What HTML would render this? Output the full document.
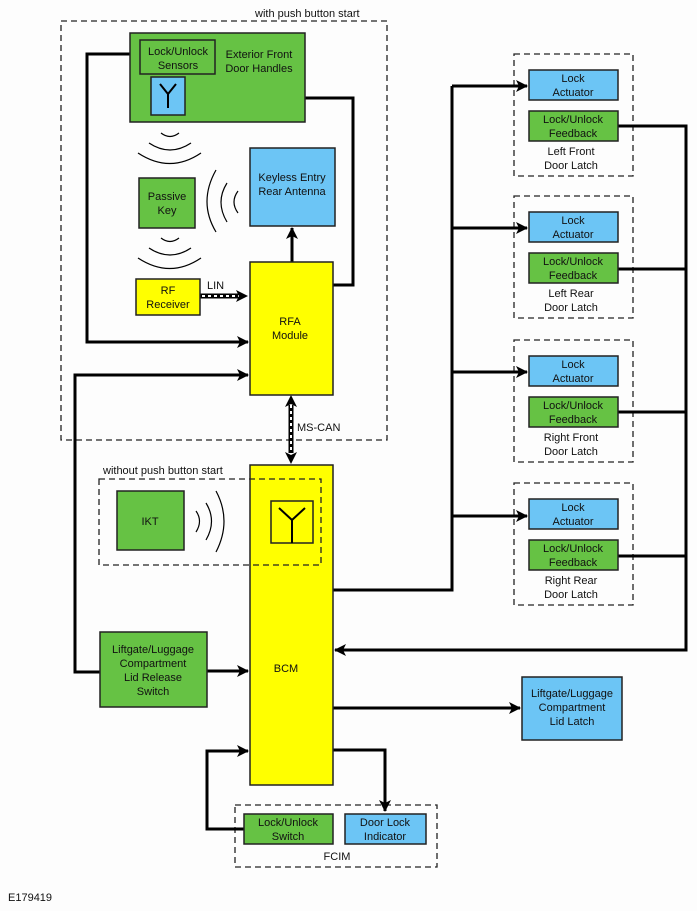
<!DOCTYPE html>
<html><head><meta charset="utf-8"><style>
html,body{margin:0;padding:0;background:#fff}
svg{display:block}
text{font-family:"Liberation Sans",sans-serif;font-size:11px;fill:#111}
</style></head><body>
<svg width="697" height="911" viewBox="0 0 697 911" xmlns="http://www.w3.org/2000/svg">
<defs>
<marker id="a" markerWidth="12" markerHeight="12" refX="11" refY="6" orient="auto" markerUnits="userSpaceOnUse">
<path d="M0,0 L12,6 L0,12 L3,6 Z" fill="#000"/></marker>
</defs>
<rect width="697" height="911" fill="#fdfdfd"/>
<g fill="none" stroke="#222" stroke-width="1.3" stroke-dasharray="6,4">
<rect x="61" y="21" width="326" height="419"/>
<rect x="235" y="805" width="202" height="62"/>
<rect x="514" y="54" width="119" height="122"/>
<rect x="514" y="196" width="119" height="122"/>
<rect x="514" y="340" width="119" height="122"/>
<rect x="514" y="483" width="119" height="122"/>
</g>
<text x="255" y="17">with push button start</text>
<text x="103" y="474">without push button start</text>
<text x="337" y="860" text-anchor="middle">FCIM</text>
<g fill="none" stroke="#000" stroke-width="3">
<polyline points="130,54 87,54 87,342 248,342" marker-end="url(#a)"/>
<polyline points="305,98 353,98 353,285 333,285"/>
<line x1="292" y1="262" x2="292" y2="228" marker-end="url(#a)"/>
<polyline points="100,672 75,672 75,375 248,375" marker-end="url(#a)"/>
<line x1="207" y1="671" x2="248" y2="671" marker-end="url(#a)"/>
<polyline points="244,829 207,829 207,751 248,751" marker-end="url(#a)"/>
<polyline points="333,750 385,750 385,811" marker-end="url(#a)"/>
<polyline points="333,590 452,590 452,86"/>
<line x1="452" y1="86" x2="527" y2="86" marker-end="url(#a)"/>
<line x1="452" y1="228" x2="527" y2="228" marker-end="url(#a)"/>
<line x1="452" y1="372" x2="527" y2="372" marker-end="url(#a)"/>
<line x1="452" y1="516" x2="527" y2="516" marker-end="url(#a)"/>
<polyline points="618,126 686,126 686,650 335,650" marker-end="url(#a)"/>
<line x1="618" y1="269" x2="686" y2="269"/>
<line x1="618" y1="412" x2="686" y2="412"/>
<line x1="618" y1="556" x2="686" y2="556"/>
<line x1="333" y1="708" x2="520" y2="708" marker-end="url(#a)"/>
</g>
<line x1="200" y1="296" x2="240" y2="296" stroke="#000" stroke-width="5"/>
<line x1="202" y1="296" x2="240" y2="296" stroke="#fff" stroke-width="2" stroke-dasharray="3,3"/>
<path d="M248,296 L236,290 L239,296 L236,302 Z" fill="#000"/>
<text x="207" y="289">LIN</text>
<line x1="291" y1="405" x2="291" y2="453" stroke="#000" stroke-width="5"/>
<line x1="291" y1="405" x2="291" y2="453" stroke="#fff" stroke-width="2" stroke-dasharray="3,3"/>
<path d="M291,395 L285,407 L291,404 L297,407 Z" fill="#000"/>
<path d="M291,464 L285,452 L291,455 L297,452 Z" fill="#000"/>
<text x="297" y="431">MS-CAN</text>
<g stroke="#222" stroke-width="1.5">
<rect x="130" y="33" width="175" height="89" fill="#66c244"/>
<rect x="140" y="40" width="75" height="34" fill="#66c244"/>
<rect x="151" y="77" width="34" height="38" fill="#6cc5f5"/>
<rect x="250" y="148" width="85" height="78" fill="#6cc5f5"/>
<rect x="139" y="178" width="56" height="50" fill="#66c244"/>
<rect x="136" y="279" width="64" height="36" fill="#ffff00"/>
<rect x="250" y="262" width="83" height="133" fill="#ffff00"/>
<rect x="250" y="465" width="83" height="320" fill="#ffff00"/>
<rect x="117" y="491" width="67" height="59" fill="#66c244"/>
<rect x="271" y="501" width="42" height="42" fill="#ffff00"/>
<rect x="100" y="632" width="107" height="75" fill="#66c244"/>
<rect x="244" y="814" width="89" height="30" fill="#66c244"/>
<rect x="345" y="814" width="81" height="30" fill="#6cc5f5"/>
<rect x="522" y="677" width="100" height="63" fill="#6cc5f5"/>
<rect x="529" y="70" width="89" height="30" fill="#6cc5f5"/>
<rect x="529" y="111" width="89" height="30" fill="#66c244"/>
<rect x="529" y="212" width="89" height="30" fill="#6cc5f5"/>
<rect x="529" y="253" width="89" height="30" fill="#66c244"/>
<rect x="529" y="356" width="89" height="30" fill="#6cc5f5"/>
<rect x="529" y="397" width="89" height="30" fill="#66c244"/>
<rect x="529" y="499" width="89" height="30" fill="#6cc5f5"/>
<rect x="529" y="540" width="89" height="30" fill="#66c244"/>
</g>
<rect x="99" y="479" width="222" height="86" fill="none" stroke="#222" stroke-width="1.3" stroke-dasharray="6,4"/>
<g fill="none" stroke="#000" stroke-width="2">
<path d="M168,108 V94 M160,84 L168,94 L176,84"/>
<path d="M292,543 V520 M279,508 L292,520 L305,508"/>
</g>
<g fill="none" stroke="#000" stroke-width="1.2">
<path d="M161,133 Q170,140 179,133"/><path d="M149,143 Q170,157 191,143"/><path d="M138,153 Q170,174 201,153"/>
<path d="M161,238 Q170,245 179,238"/><path d="M149,248 Q170,262 191,248"/><path d="M138,258 Q170,279 201,258"/>
<path d="M238,191 Q230,202 238,213"/><path d="M227,183 Q215,202 227,222"/><path d="M216,170 Q198,202 216,232"/>
<path d="M196,511 Q203,521 196,532"/><path d="M206,503 Q217,521 206,540"/><path d="M216,491 Q232,521 216,552"/>
</g>
<g text-anchor="middle">
<text x="178" y="55">Lock/Unlock</text><text x="178" y="69">Sensors</text>
<text x="259" y="58">Exterior Front</text><text x="259" y="72">Door Handles</text>
<text x="292" y="181">Keyless Entry</text><text x="292" y="195">Rear Antenna</text>
<text x="167" y="200">Passive</text><text x="167" y="214">Key</text>
<text x="168" y="294">RF</text><text x="168" y="308">Receiver</text>
<text x="290" y="325">RFA</text><text x="290" y="339">Module</text>
<text x="150" y="525">IKT</text>
<text x="286" y="672">BCM</text>
<text x="153" y="653">Liftgate/Luggage</text><text x="153" y="667">Compartment</text><text x="153" y="681">Lid Release</text><text x="153" y="695">Switch</text>
<text x="288" y="826">Lock/Unlock</text><text x="288" y="840">Switch</text>
<text x="385" y="826">Door Lock</text><text x="385" y="840">Indicator</text>
<text x="572" y="697">Liftgate/Luggage</text><text x="572" y="711">Compartment</text><text x="572" y="725">Lid Latch</text>
<text x="573" y="82">Lock</text><text x="573" y="96">Actuator</text>
<text x="573" y="123">Lock/Unlock</text><text x="573" y="137">Feedback</text>
<text x="571" y="155" fill="#333">Left Front</text><text x="571" y="169" fill="#333">Door Latch</text>
<text x="573" y="224">Lock</text><text x="573" y="238">Actuator</text>
<text x="573" y="265">Lock/Unlock</text><text x="573" y="279">Feedback</text>
<text x="571" y="297" fill="#333">Left Rear</text><text x="571" y="311" fill="#333">Door Latch</text>
<text x="573" y="368">Lock</text><text x="573" y="382">Actuator</text>
<text x="573" y="409">Lock/Unlock</text><text x="573" y="423">Feedback</text>
<text x="571" y="441" fill="#333">Right Front</text><text x="571" y="455" fill="#333">Door Latch</text>
<text x="573" y="511">Lock</text><text x="573" y="525">Actuator</text>
<text x="573" y="552">Lock/Unlock</text><text x="573" y="566">Feedback</text>
<text x="571" y="584" fill="#333">Right Rear</text><text x="571" y="598" fill="#333">Door Latch</text>
</g>
<text x="8" y="901">E179419</text>
</svg>
</body></html>
